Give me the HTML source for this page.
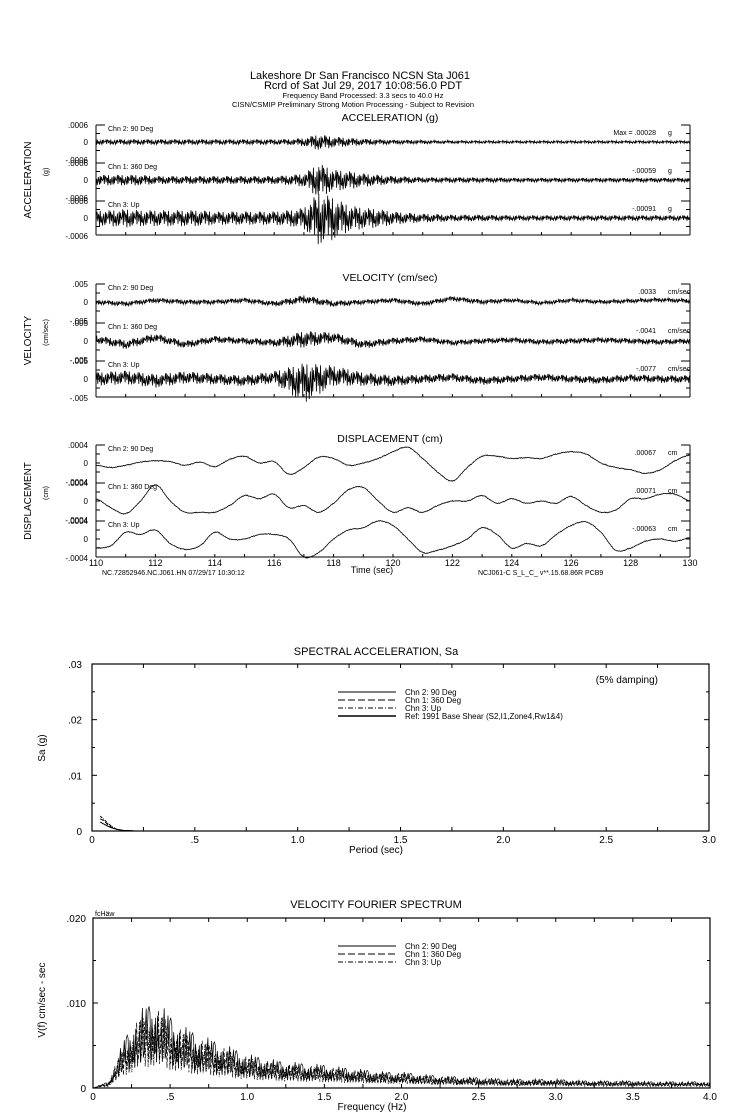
<!DOCTYPE html>
<html><head><meta charset="utf-8"><style>
body{margin:0;background:#fff}
svg{display:block;font-family:"Liberation Sans",sans-serif}
text{fill:#000}
</style></head><body>
<svg id="c" width="739" height="1115" viewBox="0 0 739 1115" xmlns="http://www.w3.org/2000/svg">
<g text-anchor="middle">
<text x="360" y="79" font-size="11">Lakeshore Dr San Francisco    NCSN Sta J061</text>
<text x="363" y="89" font-size="11">Rcrd of Sat Jul 29, 2017 10:08:56.0 PDT</text>
<text x="363" y="98" font-size="7.5">Frequency Band Processed: 3.3 secs to 40.0 Hz</text>
<text x="353" y="107" font-size="7.5">CISN/CSMIP Preliminary Strong Motion Processing - Subject to Revision</text>
</g>
<g id="plots"></g>
</svg>
<script>
// ---------- data ----------
const accChannels=["Chn 2: 90 Deg","Chn 1: 360 Deg","Chn 3: Up"];
const accMax=["Max =  .00028","-.00059","-.00091"];
const velMax=[".0033","-.0041","-.0077"];
const dispMax=[".00067",".00071","-.00063"];
// acceleration envelope (1e-4 g) per half second 110..130
const accEnv2=[1,1,1,1,1,1,1,1,1,1,1,1,1,1.1,1.5,3,2,1.6,1.2,1,0.8,0.8,0.7,0.6,0.6,0.5,0.5,0.5,0.5,0.5,0.5,0.5,0.5,0.5,0.5,0.5,0.5,0.5,0.5,0.5,0.5];
const accEnv1=[2,2,2,2,1.5,1.5,1.5,1.5,1.5,1.5,1.5,1.5,1.5,1.8,2.5,6.5,4,3.5,2.5,2,1.5,1.3,1,1,1,1,0.9,0.9,0.8,0.8,0.8,0.8,0.8,0.8,0.8,0.8,0.8,0.8,0.8,0.8,0.8];
const accEnv3=[3,3,3.5,3,3,3,3,3,2.5,2.5,2.5,2.5,2.5,3,4,10,8,5,4,3.5,2.5,2,1.6,1.5,1.2,1.2,1.2,1.1,1,1,1,1,1,1,1,1,1,1,1,1,1];
// velocity envelope (1e-3 cm/s) per second
const velEnv2=[0.7,0.7,0.7,0.7,0.7,0.7,0.8,1.2,0.9,0.7,0.7,0.7,0.7,0.7,0.6,0.6,0.6,0.6,0.6,0.6,0.6];
const velEnv1=[1.2,1.3,1.2,1.1,1,1,1.1,2.5,1.5,1.2,1,0.9,0.8,0.8,0.8,0.8,0.8,0.8,0.8,0.8,0.8];
const velEnv3=[2,2,2,1.8,1.6,1.6,1.8,6,3,2,1.6,1.3,1.2,1.2,1.1,1.1,1.1,1.1,1.1,1.1,1.1];
const velSlow2=[0,-0.5,0.5,0,0,0.5,-0.5,0.8,-0.5,0,0.5,-0.5,1,0,0.5,-0.3,0.5,0,0.3,0.6,0.3];
const velSlow1=[0.5,-1,1,-1,0.5,0,-0.5,0.5,1,-1,0,0.5,-0.5,0,0.3,-0.3,0,0.3,0,-0.3,0];
const velSlow3=[0,0.5,-0.5,0.5,0,-0.5,0.5,-1,1,0,-0.5,0,0.5,-0.5,0,0.5,0,-0.3,0.3,0,0];
// displacement (1e-4 cm) every 0.5 s 110..130
const disp2=[-0.5,-1,-0.5,0.2,0.5,0.3,-0.5,0.2,-0.8,0.8,1.5,0,0.3,-2.5,-1,1.3,1,-0.5,0,1,2.5,3.5,1,-2,-4,-1,1.5,1.5,1,1.2,1,2,2.5,2,0,-1,-1.5,-2.3,-1.5,0.5,1.8];
const disp1=[0.5,-1.5,-2.8,0,3.6,0,-2.5,-2.5,-2.5,-1,1.2,0.5,1.5,-1.5,-1,-2.5,-0.5,2.5,3,0,-2.5,-1.5,-2.5,-1,0,0,1.2,-0.5,0.5,-0.5,0,-0.5,1,-1,-2.5,-2,0.5,0.5,1.5,1.5,0];
const disp3=[-2,-1.5,1.5,1,2,-1,-2.3,-1.5,1.5,0,0,1,1,0,-4,-3,0,2,2.5,4,3,0,-3,-2.5,-1.5,0,2.5,1,-2,-1,-1.5,1,3,3.8,1.5,-2.5,-2,-0.5,0,-0.5,0.3];
const noisePattern=[0.3,-0.8,0.6,-0.2,0.9,-0.5,0.1,-0.95,0.7,-0.4,0.5,-0.7,0.2,-0.1,0.85,-0.6,0.4,-0.3,0.75,-0.9,0.15,-0.45,0.55];
const timeTicks=["110","112","114","116","118","120","122","124","126","128","130"];
// spectral acceleration
const saPeriods=[0.04,0.06,0.08,0.1,0.12,0.15,0.2];
const saChn2=[0.0016,0.0012,0.0008,0.0005,0.0003,0.0001,0.00003];
const saChn1=[0.0022,0.0018,0.001,0.0006,0.0003,0.0001,0.00003];
const saChn3=[0.0027,0.002,0.0013,0.0007,0.0003,0.0001,0.00003];
const saYTicks=[".03",".02",".01","0"];
const saXTicks=["0",".5","1.0","1.5","2.0","2.5","3.0"];
// Fourier envelope per 0.1 Hz (cm/sec-sec)
const fsEnv=[0,0.0008,0.006,0.0095,0.011,0.009,0.0075,0.0065,0.0058,0.005,0.0042,0.0038,0.0034,0.0032,0.003,0.0029,0.0026,0.0024,0.0022,0.002,0.002,0.0018,0.0016,0.0015,0.0014,0.0013,0.0012,0.0011,0.0011,0.0011,0.0011,0.001,0.0009,0.0009,0.0009,0.0009,0.0008,0.0008,0.0008,0.0008,0.0007];
const fsYTicks=[".020",".010","0"];
const fsXTicks=["0",".5","1.0","1.5","2.0","2.5","3.0","3.5","4.0"];

// ---------- drawing ----------
const NS="http://www.w3.org/2000/svg";
const G=document.getElementById("plots");
function el(tag,attrs,parent,txt){const e=document.createElementNS(NS,tag);for(const k in attrs)e.setAttribute(k,attrs[k]);if(txt!==undefined)e.textContent=txt;(parent||G).appendChild(e);return e;}
function interp(arr,pos){const i=Math.floor(pos);if(i>=arr.length-1)return arr[arr.length-1];const f=pos-i;return arr[i]*(1-f)+arr[i+1]*f;}
const X0=96,X1=690;
function xT(t){return X0+(t-110)/20*(X1-X0);}

function timeGroup(name,title,titleY,top,zeros,half,tickTop,tickBot,labels,maxes,unit,axisTitle,axisSub,traces,isLast){
  const g=el("g",{},G);
  
  
  const tt=el("text",{x:390,y:titleY,"font-size":10.5,"text-anchor":"middle"},g,title);
  
  
  const bottom=zeros[2]+half;
  const a1=el("text",{x:31,y:(top+bottom)/2,"font-size":10,"text-anchor":"middle",transform:`rotate(-90 31 ${(top+bottom)/2})`},g,axisTitle);
  
  
  const a2=el("text",{x:48,y:(top+bottom)/2-8,"font-size":7,"text-anchor":"middle",transform:`rotate(-90 48 ${(top+bottom)/2-8})`},g,axisSub);
  
  
  el("line",{x1:X0,y1:top,x2:X0,y2:bottom,stroke:"#000"},g);
  el("line",{x1:X1,y1:top,x2:X1,y2:bottom,stroke:"#000"},g);
  el("line",{x1:X0,y1:bottom,x2:X1,y2:bottom,stroke:"#000"},g);
  for(let t=110;t<=130;t++){const x=xT(t);el("line",{x1:x,y1:bottom,x2:x,y2:bottom-3,stroke:"#000"},g);}
  for(let p=0;p<3;p++){
    const z=zeros[p],pt=z-half;
    el("line",{x1:X0,y1:pt,x2:X0+9,y2:pt,stroke:"#000"},g);
    el("line",{x1:X1-9,y1:pt,x2:X1,y2:pt,stroke:"#000"},g);
    [z-half/2,z,z+half/2].forEach(y=>{el("line",{x1:X0,y1:y,x2:X0+4,y2:y,stroke:"#000"},g);el("line",{x1:X1-4,y1:y,x2:X1,y2:y,stroke:"#000"},g);});
    el("text",{x:88,y:z-half+3,"font-size":8,"text-anchor":"end"},g,tickTop);
    el("text",{x:88,y:z+3,"font-size":8,"text-anchor":"end"},g,"0");
    el("text",{x:88,y:z+half+4,"font-size":8,"text-anchor":"end"},g,tickBot);
    const lb=el("text",{x:108,y:pt+6,"font-size":7},g,accChannels[p]);
    
    
    const mx=el("text",{x:656,y:z-half+10,"font-size":7,"text-anchor":"end"},g,maxes[p]);
    
    
    el("text",{x:668,y:z-half+10,"font-size":7},g,unit);
    const path=el("path",{d:traces[p],fill:"none",stroke:"#000","stroke-width":0.8},g);
    
    
  }
  if(isLast){
    timeTicks.forEach(l=>{const x=xT(+l);el("text",{x:x,y:bottom+9,"font-size":9,"text-anchor":"middle"},g,l);});
  }
}
function noisyTrace(env,slow,zero,scale,off,perHalf){
  let d="";const N=1000;
  for(let k=0;k<=N;k++){const t=110+k*0.02;const pos=(t-110)*(perHalf?2:1);
    let v=interp(env,pos)*noisePattern[(k*7+off)%23];
    if(slow)v+=interp(slow,t-110);
    d+=(k?"L":"M")+xT(t).toFixed(1)+","+(zero-v*scale).toFixed(1);}
  return d;
}
function smoothTrace(arr,zero,scale,off){
  let d="";const N=800;
  for(let k=0;k<=N;k++){const t=110+k*0.025;const pos=(t-110)*2;
    const i=Math.floor(pos),f=pos-i;
    const a=arr[Math.max(0,i-1)],b=arr[Math.min(arr.length-1,i)],c=arr[Math.min(arr.length-1,i+1)],e=arr[Math.min(arr.length-1,i+2)];
    const v=0.5*((2*b)+(-a+c)*f+(2*a-5*b+4*c-e)*f*f+(-a+3*b-3*c+e)*f*f*f)+0.1*noisePattern[(k*5+off)%23];
    d+=(k?"L":"M")+xT(t).toFixed(1)+","+(zero-v*scale).toFixed(1);}
  return d;
}
const az=[142,180,218],ah=17;
timeGroup("acceleration-plot","ACCELERATION (g)",121,125,az,ah,".0006","-.0006",accChannels,accMax,"g","ACCELERATION","(g)",
 [noisyTrace(accEnv2,null,az[0],ah/6,0,true),noisyTrace(accEnv1,null,az[1],ah/6,5,true),noisyTrace(accEnv3,null,az[2],ah/6,11,true)],false);
const vz=[302,341,379],vh=18;
timeGroup("velocity-plot","VELOCITY (cm/sec)",281,284,vz,vh,".005","-.005",accChannels,velMax,"cm/sec","VELOCITY","(cm/sec)",
 [noisyTrace(velEnv2,velSlow2,vz[0],vh/5,2),noisyTrace(velEnv1,velSlow1,vz[1],vh/5,7),noisyTrace(velEnv3,velSlow3,vz[2],vh/5,13)],false);
const dz=[463,501,539],dh=18;
timeGroup("displacement-plot","DISPLACEMENT (cm)",442,445,dz,dh,".0004","-.0004",accChannels,dispMax,"cm","DISPLACEMENT","(cm)",
 [smoothTrace(disp2,dz[0],dh/4,1),smoothTrace(disp1,dz[1],dh/4,6),smoothTrace(disp3,dz[2],dh/4,12)],true);
el("text",{x:372,y:573,"font-size":9,"text-anchor":"middle"},G,"Time (sec)");
el("text",{x:102,y:575,"font-size":7},G,"NC.72852946.NC.J061.HN 07/29/17 10:30:12");
el("text",{x:478,y:575,"font-size":7},G,"NCJ061-C  S_L_C_  v**.15.68.86R PCB9");

// ---------- spectral acceleration ----------
(function(){
 const g=el("g",{},G);
 
 
 const L=92,R=709,T=664,B=831;
 const xs=p=>L+p/3*(R-L), ys=v=>B-v/0.03*(B-T);
 el("text",{x:376,y:655,"font-size":11,"text-anchor":"middle"},g,"SPECTRAL ACCELERATION, Sa");
 el("rect",{x:L,y:T,width:R-L,height:B-T,fill:"none",stroke:"#000","stroke-width":1.2},g);
 saYTicks.forEach((l,i)=>{const y=T+i*(B-T)/3;el("text",{x:82,y:y+4,"font-size":10,"text-anchor":"end"},g,l);
   el("line",{x1:L,y1:y,x2:L+5,y2:y,stroke:"#000"},g);el("line",{x1:R-5,y1:y,x2:R,y2:y,stroke:"#000"},g);});
 for(let i=1;i<6;i+=2){const y=T+i*(B-T)/6;el("line",{x1:L,y1:y,x2:L+3,y2:y,stroke:"#000"},g);el("line",{x1:R-3,y1:y,x2:R,y2:y,stroke:"#000"},g);}
 saXTicks.forEach((l,i)=>{const x=xs(i*0.5);el("text",{x:x,y:843,"font-size":10,"text-anchor":"middle"},g,l);});
 for(let i=1;i<12;i++){const x=xs(i*0.25);el("line",{x1:x,y1:T,x2:x,y2:T+4,stroke:"#000"},g);el("line",{x1:x,y1:B,x2:x,y2:B-4,stroke:"#000"},g);}
 el("text",{x:376,y:853,"font-size":10,"text-anchor":"middle"},g,"Period (sec)");
 el("text",{x:45,y:748,"font-size":10,"text-anchor":"middle",transform:"rotate(-90 45 748)"},g,"Sa  (g)");
 el("text",{x:658,y:683,"font-size":10,"text-anchor":"end"},g,"(5% damping)");
 const leg=[["Chn 2: 90 Deg",""],["Chn 1: 360 Deg","7,3"],["Chn 3: Up","5,2,1,2"],["Ref: 1991 Base Shear (S2,I1,Zone4,Rw1&4)",""]];
 leg.forEach((e,i)=>{const y=692+i*8;const ln=el("line",{x1:338,y1:y,x2:396,y2:y,stroke:"#000","stroke-dasharray":e[1],"stroke-width":i==3?1.5:1},g);
   
   el("text",{x:405,y:y+3,"font-size":8},g,e[0]);});
 [[saChn2,""],[saChn1,"4,2"],[saChn3,"3,1,1,1"]].forEach((s,j)=>{
   const d=saPeriods.map((p,i)=>(i?"L":"M")+xs(p).toFixed(1)+","+ys(s[0][i]).toFixed(1)).join("");
   const pth=el("path",{d:d,fill:"none",stroke:"#000","stroke-dasharray":s[1]},g);
   });
})();

// ---------- Fourier spectrum ----------
(function(){
 const g=el("g",{},G);
 
 
 const L=93,R=710,T=918,B=1088;
 const xs=f=>L+f/4*(R-L), ys=v=>B-v/0.02*(B-T);
 el("text",{x:376,y:908,"font-size":11,"text-anchor":"middle"},g,"VELOCITY FOURIER SPECTRUM");
 el("rect",{x:L,y:T,width:R-L,height:B-T,fill:"none",stroke:"#000","stroke-width":1.2},g);
 el("text",{x:95,y:916,"font-size":7},g,"fcH\u00e4w");
 fsYTicks.forEach((l,i)=>{const y=T+i*(B-T)/2;el("text",{x:86,y:y+4,"font-size":10,"text-anchor":"end"},g,l);
   el("line",{x1:L,y1:y,x2:L+5,y2:y,stroke:"#000"},g);el("line",{x1:R-5,y1:y,x2:R,y2:y,stroke:"#000"},g);});
 [1,3].forEach(i=>{const y=T+i*(B-T)/4;el("line",{x1:L,y1:y,x2:L+3,y2:y,stroke:"#000"},g);el("line",{x1:R-3,y1:y,x2:R,y2:y,stroke:"#000"},g);});
 fsXTicks.forEach((l,i)=>{const x=xs(i*0.5);el("text",{x:x,y:1100,"font-size":10,"text-anchor":"middle"},g,l);});
 for(let i=1;i<16;i++){const x=xs(i*0.25);el("line",{x1:x,y1:T,x2:x,y2:T+4,stroke:"#000"},g);el("line",{x1:x,y1:B,x2:x,y2:B-4,stroke:"#000"},g);}
 el("text",{x:372,y:1110,"font-size":10,"text-anchor":"middle"},g,"Frequency (Hz)");
 el("text",{x:45,y:1000,"font-size":10,"text-anchor":"middle",transform:"rotate(-90 45 1000)"},g,"V(f)   cm/sec - sec");
 const leg=[["Chn 2: 90 Deg",""],["Chn 1: 360 Deg","7,3"],["Chn 3: Up","5,2,1,2"]];
 leg.forEach((e,i)=>{const y=946+i*8;const ln=el("line",{x1:338,y1:y,x2:396,y2:y,stroke:"#000","stroke-dasharray":e[1]},g);
   
   el("text",{x:405,y:y+3,"font-size":8},g,e[0]);});
 [["",0,1],["4,2",7,0.9],["3,1,1,1",15,0.85]].forEach((s,j)=>{
   let d="";const N=650;
   for(let k=0;k<=N;k++){const f=k*4/N;const e=interp(fsEnv,f*10)*s[2];
     const v=e*(0.2+0.8*Math.abs(noisePattern[(k*5+s[1])%23]));
     d+=(k?"L":"M")+xs(f).toFixed(1)+","+ys(Math.max(0,v)).toFixed(1);}
   const pth=el("path",{d:d,fill:"none",stroke:"#000","stroke-width":0.7,"stroke-dasharray":s[0]},g);
   });
})();
</script>
</body></html>
